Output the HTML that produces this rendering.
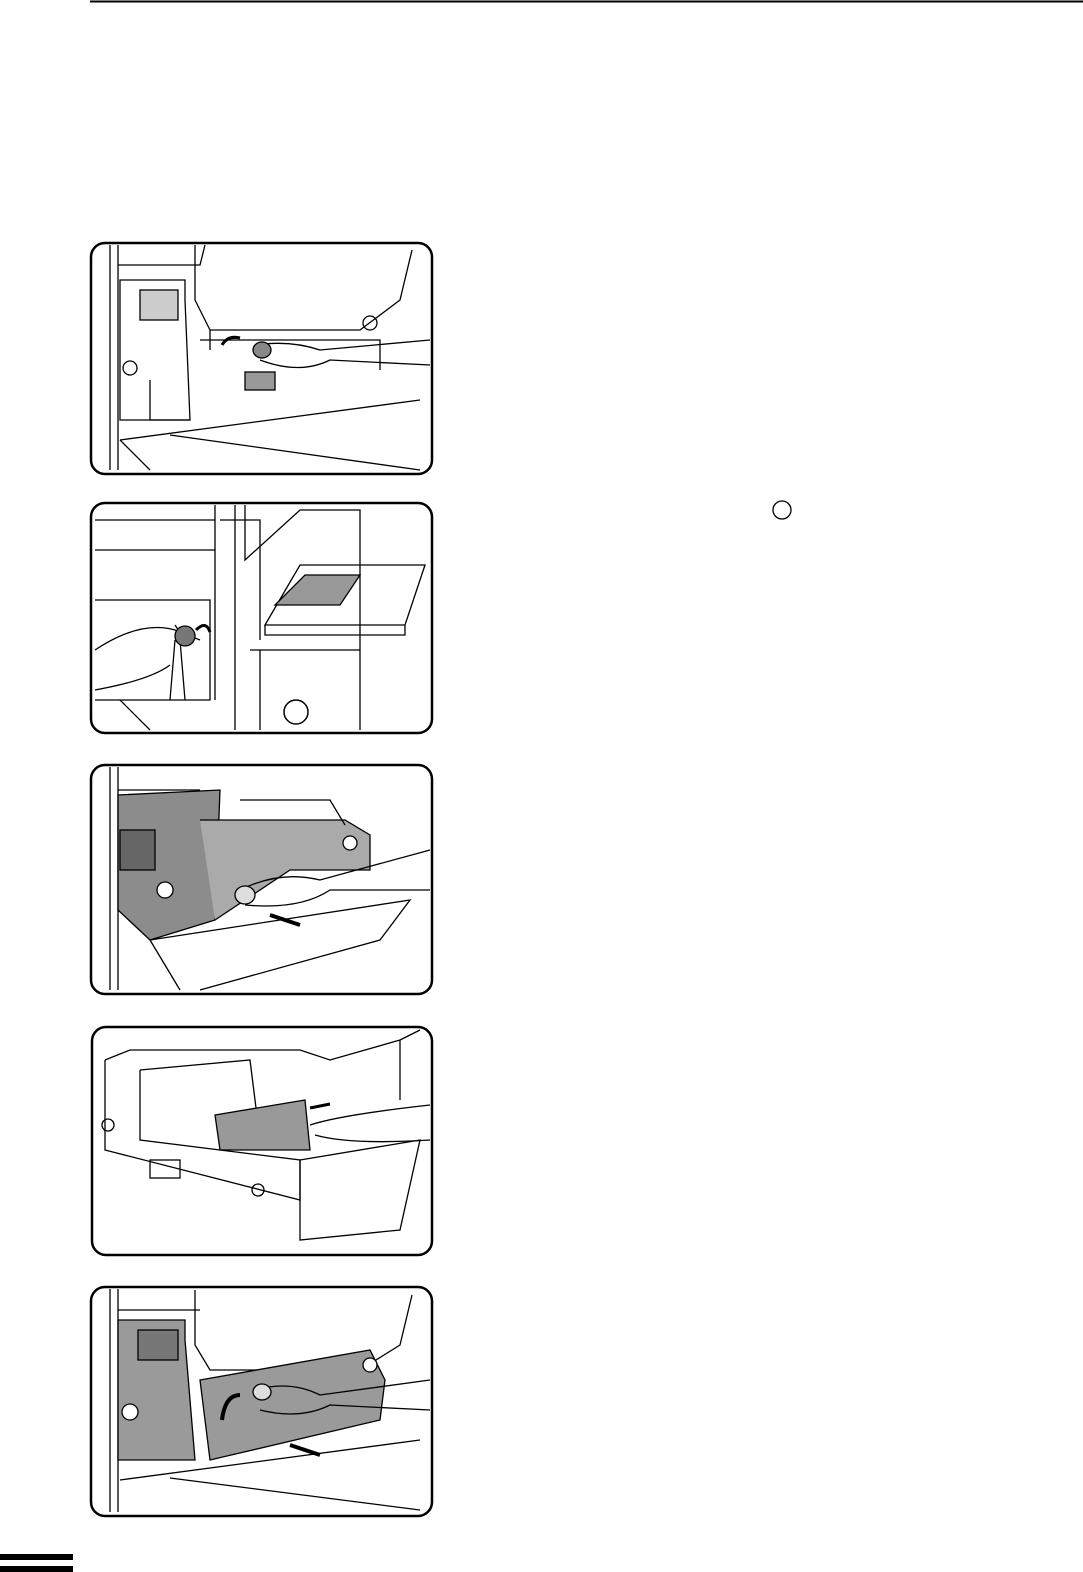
<!DOCTYPE html>
<html><head><meta charset="utf-8"><style>
html,body{margin:0;padding:0;background:#fff;}
body{width:1083px;height:1572px;position:relative;overflow:hidden;font-family:"Liberation Sans",sans-serif;}
svg{position:absolute;left:0;top:0;}
</style></head><body>
<svg width="1083" height="1572" viewBox="0 0 1083 1572" xmlns="http://www.w3.org/2000/svg" fill="none" stroke="#000" stroke-width="1.5">
<line x1="90" y1="1.5" x2="1083" y2="1.5" stroke-width="2"/>
<rect x="0" y="1554" width="73" height="6" fill="#000" stroke="none"/>
<rect x="0" y="1566" width="73" height="6" fill="#000" stroke="none"/>
<circle cx="782" cy="510" r="9" stroke-width="1.3"/>

<!-- Panel 1 -->
<rect x="91" y="243" width="341" height="231" rx="14" stroke-width="2.5"/>
<g stroke-width="1.3">
<path d="M110 245 V470 M118 245 V470 M118 265 H200 L205 245"/>
<path d="M195 245 V300 L210 330 H360 L400 300 L412 250"/>
<path d="M120 280 H185 V300 L190 420 H120 Z"/>
<rect x="140" y="290" width="38" height="30" fill="#ccc"/>
<path d="M200 340 H380 V370 M210 330 V350"/>
<circle cx="370" cy="323" r="7"/>
<circle cx="130" cy="368" r="7"/>
<path d="M150 380 V420 H190"/>
<path d="M120 440 L420 400 M120 440 L150 470 M170 435 L420 470"/>
<path d="M255 345 Q290 340 320 350 L430 340 M260 360 Q300 375 330 360 L430 365"/>
<ellipse cx="262" cy="350" rx="9" ry="8" fill="#888"/>
<rect x="245" y="372" width="30" height="18" fill="#999"/>
<path d="M222 345 Q228 335 240 338" stroke-width="3"/>
</g>

<!-- Panel 2 -->
<rect x="91" y="503" width="341" height="230" rx="14" stroke-width="2.5"/>
<g stroke-width="1.3">
<path d="M95 520 H215 V550 H95 M215 505 V700 M235 505 V730 M220 520 H260 V640"/>
<path d="M95 600 H210 V700 H95"/>
<path d="M245 505 V560 L300 510 H360 V730"/>
<path d="M265 625 L300 565 H425 L405 625 Z M265 625 V635 H405 V625"/>
<path d="M275 605 L305 575 H360 L340 605 Z" fill="#999"/>
<path d="M250 650 H360 M260 650 V730"/>
<path d="M95 650 Q140 620 175 630 L200 640 M95 690 Q150 680 170 665 M120 700 L150 730"/>
<path d="M175 625 L185 640 M175 640 L170 700 M180 640 L185 700"/>
<circle cx="185" cy="636" r="10" fill="#777"/>
<path d="M196 630 Q206 620 210 632" stroke-width="3"/>
<circle cx="296" cy="712" r="12" stroke-width="1.5"/>
</g>

<!-- Panel 3 -->
<rect x="91" y="765" width="341" height="229" rx="14" stroke-width="2.5"/>
<g stroke-width="1.3">
<path d="M110 767 V990 M118 767 V990 M118 790 H200"/>
<path d="M118 795 L220 790 L215 920 L150 940 L118 910 Z" fill="#8c8c8c"/>
<rect x="120" y="830" width="35" height="40" fill="#666"/>
<path d="M200 820 H345 L370 835 V870 H290 L215 920" fill="#aaa"/>
<path d="M240 800 L330 800 L345 825"/>
<circle cx="350" cy="843" r="7" fill="#fff"/>
<circle cx="165" cy="890" r="8" fill="#fff"/>
<path d="M240 890 Q280 870 320 880 L430 850 M245 905 Q300 910 330 890 L430 890"/>
<ellipse cx="245" cy="895" rx="10" ry="9" fill="#ddd"/>
<path d="M150 940 L410 900 L380 940 L200 990 M150 940 L180 990"/>
<path d="M270 915 L300 925" stroke-width="4"/>
</g>

<!-- Panel 4 -->
<rect x="92" y="1027" width="340" height="228" rx="14" stroke-width="2.5"/>
<g stroke-width="1.3">
<path d="M105 1060 L130 1050 L300 1050 L330 1060 L400 1040 V1100 M400 1040 L420 1030"/>
<path d="M105 1060 V1150 L300 1200 L300 1160 L140 1140 L140 1070"/>
<path d="M300 1160 L420 1140 L400 1230 L300 1240 Z"/>
<path d="M140 1070 L250 1060 L260 1140"/>
<path d="M215 1115 L305 1100 L310 1150 L220 1150 Z" fill="#999"/>
<path d="M310 1125 Q340 1115 430 1105 M315 1135 Q350 1145 430 1140"/>
<path d="M310 1108 L330 1104" stroke-width="3"/>
<circle cx="108" cy="1125" r="6"/>
<circle cx="258" cy="1190" r="6"/>
<rect x="150" y="1160" width="30" height="18"/>
</g>

<!-- Panel 5 -->
<rect x="91" y="1287" width="341" height="229" rx="14" stroke-width="2.5"/>
<g stroke-width="1.3">
<path d="M110 1289 V1512 M118 1289 V1512 M118 1310 H200"/>
<path d="M118 1320 H185 V1340 L195 1460 H118 Z" fill="#9a9a9a"/>
<rect x="138" y="1330" width="40" height="30" fill="#777"/>
<path d="M195 1290 V1345 L210 1370 H360 L400 1345 L412 1295"/>
<path d="M200 1380 L370 1350 L385 1380 L380 1420 L210 1460 Z" fill="#9a9a9a"/>
<circle cx="370" cy="1365" r="7" fill="#fff"/>
<circle cx="130" cy="1412" r="8" fill="#fff"/>
<path d="M255 1390 Q290 1380 320 1395 L430 1380 M260 1410 Q300 1420 330 1405 L430 1410"/>
<ellipse cx="262" cy="1392" rx="9" ry="8" fill="#ddd"/>
<path d="M222 1420 Q225 1395 240 1395" stroke-width="4"/>
<path d="M290 1445 L320 1455" stroke-width="4"/>
<path d="M120 1480 L420 1440 M170 1478 L420 1510"/>
</g>
</svg>
</body></html>
